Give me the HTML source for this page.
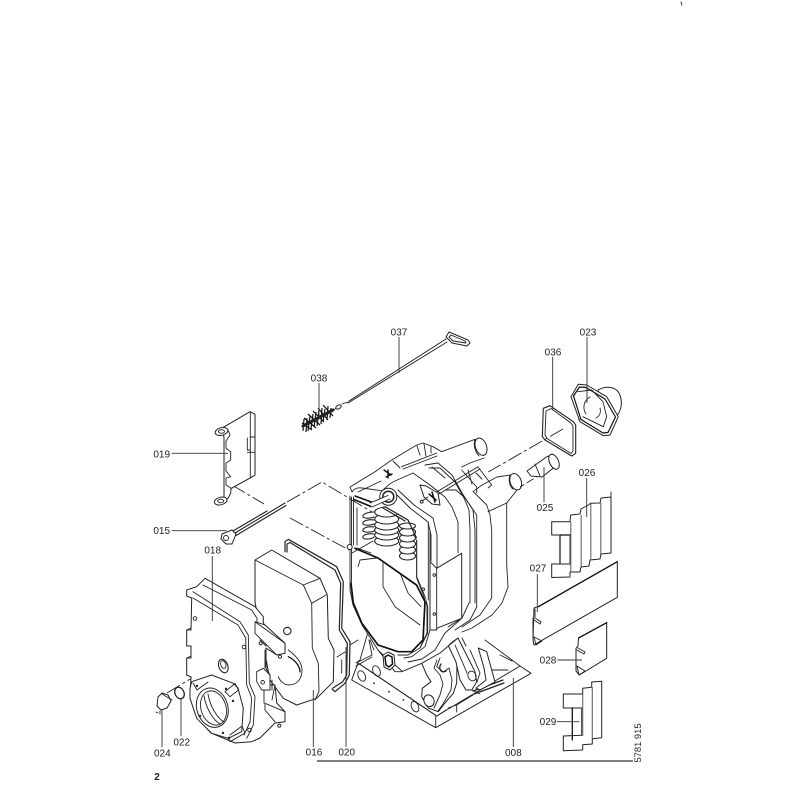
<!DOCTYPE html>
<html><head><meta charset="utf-8"><style>
html,body{margin:0;padding:0;background:#fff}
svg{display:block}
text{font-family:"Liberation Sans",sans-serif;font-size:10px;fill:#222;text-anchor:middle}
.p{fill:none;stroke:#222;stroke-width:.9;stroke-linejoin:round;stroke-linecap:round}
.g{fill:none;stroke:#666;stroke-width:1.1}
.w{fill:#fff;stroke:#222;stroke-width:1;stroke-linejoin:round}
.f{fill:#fff;stroke:none}
.t{fill:none;stroke:#111;stroke-width:1.7;stroke-linejoin:round;stroke-linecap:round}
.l{fill:none;stroke:#333;stroke-width:.9}
.d{fill:none;stroke:#222;stroke-width:.9;stroke-dasharray:15 3 3 3}
</style></head><body>
<svg width="800" height="800" viewBox="0 0 800 800" xmlns="http://www.w3.org/2000/svg">
<rect width="800" height="800" fill="#fff"/>
<path class="p" d="M681 2l1 3"/>

<!-- base 008 -->
<path class="w" d="M358 663L351.7 680 435.7 727.7 531 673.3 520 666 436.7 716Z"/>
<path class="p" d="M358 663L436.7 716M435.7 716V727.5M485 640L520 666M491.7 670L508 670M500 655L512 661M448 708L456.7 705V712M437 716L446 710"/>
<path class="p" d="M473 691L503 680M474 694L504 683" style="stroke-width:1.3"/>
<path class="p" d="M456.7 705L473 695M472 690L480 694"/>
<ellipse class="p" cx="361.7" cy="676" rx="3.5" ry="5.5" transform="rotate(-25 361.7 676)"/>
<ellipse class="p" cx="376.5" cy="671" rx="3.5" ry="5.5" transform="rotate(-25 376.5 671)"/>
<ellipse class="p" cx="415" cy="706.7" rx="3.5" ry="5.5" transform="rotate(-25 415 706.7)"/>
<circle cx="374" cy="683.3" r=".9" fill="#222"/><circle cx="389" cy="691.7" r=".9" fill="#222"/><circle cx="403.3" cy="700" r=".9" fill="#222"/>
<path class="p" d="M368 632L360 660 356 663 372 655 369 640M356 666L372 657M374 650L370 640M337 657L345 652M341.7 660V673M350 645L358 640"/>
<!-- feet -->
<path class="w" d="M421.7 663.3L426.7 675 431 681.7 422.3 688.3 421.7 696.7 428.3 708 438.3 711.7 445 703 453.3 693.3 456.7 683 457 660 448 640 430 650Z"/>
<path class="p" d="M440 658L436.7 666.7 443.3 672 449 668 452 680 451 690 443 704 438 711M437 660L434 668 440 675 443 684 440 695 434 708"/>
<path class="p" d="M441 664C438 668 441 674 446 671" style="stroke-width:1.4"/>
<ellipse class="w" cx="429" cy="700.7" rx="5" ry="6" transform="rotate(-25 429 700.7)"/>
<path class="w" d="M448 645L458 638 475 671.7 476.7 681.7 471.7 690 466 690 460 680 456 662Z"/>
<path class="p" d="M455 645L467 673M470 650L480 673 477 682M462 638L466 646"/>
<ellipse class="p" cx="472" cy="676" rx="4" ry="5" transform="rotate(-25 472 676)"/>
<path class="w" d="M478.3 648L486.7 651.7 491.7 670 495 682 480 690 476 688 486 680 484 668Z"/>

<!-- body silhouette -->
<path class="f" d="M350 487L375 472 392 460 417 445 423 443 433 447 442 452 475 439 481 438 487 455 462 467 480 478 497 477 510 475 520 486 507 503 508 587 502 603 492 615 472 628 462 632 440 653 422 663 402 672 395 672 378 650 362 625 353 605 350 590Z"/>
<path class="p" d="M350 487L375 471.7 391.7 460 416.7 445 423 443 433 446.7 441.7 451.7 475 439.3"/>
<ellipse class="w" cx="481" cy="446.7" rx="5.5" ry="9" transform="rotate(-20 481 446.7)"/>
<path class="p" d="M484 458L470 463 461.7 467M475 439.3C473 444 475 452 479 456"/>
<path class="p" d="M473 491.7L482 485 497 477 510 475"/>
<ellipse class="w" cx="515.7" cy="481.7" rx="5.5" ry="8.5" transform="rotate(-20 515.7 481.7)"/>
<path class="p" d="M517 490L506.7 503 488 511.7M510 475C508 480 510 487 513 489"/>
<path class="p" d="M506.7 503V565L508 587 502 603 492 615 472 628 462 632"/>
<path class="p" d="M461.7 470L476.7 487V493M468 470L472 484M478 467L491.7 485 488 488M476 473L482 479"/>
<!-- fins -->
<path class="p" d="M383 490Q390 483 395 481L413 473 430 485 445 497 452 507 458 522V553"/>
<path class="p" d="M396 494L410 508 428 522 431 535V561M398 490L414 505 433 518 437 535V568"/>
<path class="p" d="M425 465L438 463 452 475 462 493 473 510 475 530V603M429 468L440 468 455 482 464 498 469 510 470 530V603"/>
<path class="p" d="M445 490L456 490 465 498 476.7 515V607"/>
<path class="p" d="M473.3 491.7L486.7 505 490 515 491.7 530V598L480 615 462 627M469 603L462 618 448 627M476.7 607L470 620 455 630"/>
<path class="p" d="M432 467L445 478"/>
<!-- side plate -->
<path class="w" d="M430 561.7L436.7 568.3 461.7 553.3V618.3L436.7 628.3V630L430 630Z"/>
<path class="p" d="M436.7 568V628M430 530V562"/>
<circle class="p" cx="434.3" cy="575" r="1.3"/><circle class="p" cx="423.3" cy="589.3" r="1.3"/><circle class="p" cx="434.3" cy="614" r="1.3"/>
<path class="p" d="M461 619L445 633 435 650 422 659 408 662M430 630L425 646.7 411.7 656.7 404 658"/>
<!-- lower plate contour -->
<path class="p" d="M350 590L353 605 362 625 378 650 395 671.7 401.7 671.7 421.7 663.3 440 653 458 638"/>
<path class="p" d="M428.3 522V600M416.7 540V576.7L425 596.7 427.7 606.7V633L420 648 408 655 398 655"/>
<!-- window/opening -->
<path class="f" d="M353 497L375 490 392 505 416 530V577L426 600V634L420 646 410 651 398 652 378 645 362 623 353 603Z"/>
<path class="t" d="M351 583.3L353.3 603 361.7 623 378 645 398 651.7 411.7 651.7 423 640 425 601.7 416.5 585 378 558 355 548.3"/>
<path class="p" d="M353.5 497V545M351.5 497V583M357 508V545M416.7 540V578L424 597 427 606V633L420 648"/>
<path class="p" d="M358 566.7L360 560 376.7 558M383 563V586.7L395 606.7 420 625M400 573L408 593 421 606.7"/>
<path class="p" d="M350 496V590"/>
<path class="p" d="M385 506.7L408 520 416.7 538"/>
<!-- coils -->
<g fill="#fff" stroke="#222" stroke-width="1.1">
<ellipse cx="386.7" cy="541" rx="12" ry="5"/><ellipse cx="386.7" cy="535" rx="12" ry="5"/><ellipse cx="386.7" cy="530" rx="12" ry="5"/><ellipse cx="386.7" cy="525" rx="12" ry="5"/><ellipse cx="386.7" cy="519" rx="12" ry="5"/><ellipse cx="386.7" cy="512" rx="12" ry="5"/>
<ellipse cx="407.5" cy="556" rx="8" ry="4"/><ellipse cx="407.5" cy="550" rx="8" ry="4"/><ellipse cx="407.5" cy="544" rx="8" ry="4"/><ellipse cx="407.5" cy="538" rx="8" ry="4"/><ellipse cx="407.5" cy="532" rx="8" ry="4"/><ellipse cx="407.5" cy="526" rx="8" ry="3"/>
</g>
<path class="p" d="M374 512C368 512 362 514 363 517 365 519 372 518 374 517M374 520C368 519 362 521 363 524 365 526 372 525 374 524M374 527C368 526 362 528 363 531 365 533 372 532 374 531M374 534C368 533 362 535 363 538 365 540 372 539 374 537" style="stroke-width:1.1"/>
<path class="f" d="M368 502L388 496 400 500 416 515 416 523 408 520 385 506 372 510Z"/>
<path class="p" d="M385 506.7L408 520 415 535M383 508L405 521" style="stroke-width:1.2"/>
<path class="t" d="M355 496L374 503M354 499.5L371 506.5" style="stroke-width:1.5"/>
<path class="p" d="M352 492Q355 487 362 488L383 491M358 492L381 481M350 487L352 492"/>
<path class="p" d="M352 553L373 541M357 548L371 553"/>
<!-- boss -->
<circle class="w" cx="388.3" cy="496.7" r="8.5"/><circle class="p" cx="388.3" cy="496.7" r="5.5" style="stroke-width:1.5"/>
<path class="f" d="M370 503L388 495 390 499 372 507Z"/><path class="p" d="M370 503L388 495.5M372 507L390 499"/>
<circle class="w" cx="349.7" cy="547" r="2.5"/>
<!-- rear rod & clamps -->
<path class="p" d="M401.7 466.7L436.7 453M403 469L437 456M417 446L420 455M424 444L426 456M431 447V453M393 461L400 468"/>
<path class="t" d="M384 470L391 475M386 477L392 474M388 470V478" style="stroke-width:1.4"/>
<!-- front rod & clamp -->
<path class="p" d="M437 491.7L478 466.7M439 494L480 469"/>
<path class="w" d="M420 485L426 486 438 493 440 505 432 504 424 497Z"/>
<path class="t" d="M429 494L436 500M432 492L435 502" style="stroke-width:1.5"/>
<path class="p" d="M422 501L428 497"/><circle class="w" cx="421.7" cy="501.7" r="1.4"/>
<!-- hub -->
<path class="w" d="M383 655L388 652 394 655 395 665 390 670 384 667Z"/>
<path class="t" d="M385 657L388 655 392 657 392.5 664 389 667 386 665Z" style="stroke-width:1.5"/>
<path class="p" d="M378 650L383 655M395 665L402 671"/>

<!-- dash lines -->
<path class="d" d="M232 485L264 504"/>
<path class="d" d="M287 502L322 482 372 512"/>
<path class="d" d="M290 518L349 550"/>
<path class="d" d="M597 410L576 421"/>
<path class="d" d="M563 429L488.3 472"/>
<path class="d" d="M543 473L520 487" style="stroke-dasharray:8 3"/>
<path class="d" d="M167 693L205 670"/>
<path class="p" d="M205 670L218 660"/>

<!-- 019 -->
<path class="w" d="M222.7 427.7L250 411.7 255 414.3V475L250.7 477.7 231 488.5 230.7 493.3 228 498.3 224 500V438Z"/>
<path class="p" d="M250.3 412V477.7M224 438.3V490M230 435L226 441V448.3L230.7 451.7V460L226 463V471L230.7 476.7 226 478V485L230.7 488M222.7 427.7L228 430 230 435M247.3 438V450H250M255 437H250M247.3 452.3H255"/>
<ellipse class="w" cx="221.5" cy="431.5" rx="6.5" ry="3.8" transform="rotate(-15 221.5 431.5)"/><ellipse class="p" cx="221.5" cy="431.5" rx="3" ry="1.8"/>
<ellipse class="w" cx="220.7" cy="501" rx="6.5" ry="3.8" transform="rotate(-15 220.7 501)"/><ellipse class="p" cx="220.7" cy="501" rx="3" ry="1.8"/>
<path class="l" d="M171.7 453.3H228"/>

<!-- 015 -->
<path class="p" d="M235 533L285 503M236 535.5L286 505.5M233 531L267 511" style="stroke-width:1.1"/>
<path class="w" d="M222 534L232 530 236 534 232 544 226 544 221 539Z"/><circle class="p" cx="226" cy="538" r="2.5"/>
<path class="l" d="M171.7 530.7H226.7"/>

<!-- 038 -->
<g stroke="#111" stroke-width="1.2" fill="none">
<path d="M304 419L303 431M307 418L306 432M310 416L308 431M313 414L311 429M316 412L314 427M319 410L317 426M322 408L321 424M325 409L323 422M328 406L327 420M331 408L330 418M302 423L312 430M304 418L316 428M308 414L320 425M313 411L324 422M318 408L328 420M323 405L333 416"/>
</g>
<path class="p" d="M303 426L333 410" style="stroke-width:3"/>
<path class="p" d="M333 410L337 408"/>
<ellipse class="w" cx="338.5" cy="407" rx="3" ry="1.8" transform="rotate(-30 338.5 407)"/>
<!-- 037 rod -->
<path class="p" d="M342 404L348 402"/>
<path class="p" d="M348 403L447 342M349 401L446 339" style="stroke-width:1"/>
<path class="w" d="M449 332L468 340 470 343 467 346 452 343 446 337Z"/><path class="p" d="M451 335L465 341 466 343 453 341 449 337Z"/>

<!-- 036 gasket -->
<path class="p" d="M543.3 408.3L550 405.7 573.3 421.7 575.7 425V453.3L571.7 456 545 440 542.3 436.7Z" style="stroke-width:1.1"/>
<path class="p" d="M546 411L551 408.5 571 423 573 426V451L571 453.5 547 438.5 545 435Z"/>
<!-- 023 flange -->
<path class="w" d="M598 390C605 386 615 386 619 393 623 401 622 410 616 417L605 410Z"/>
<path class="w" d="M571 396.7L578.3 384.3 586.7 385 606.7 396.7 618.3 416.7 610 435 603.3 435.7 580 421.7Z"/>
<path class="t" d="M573.5 396L579.5 387 586 387.5 605 399 615.5 417 608 432.5 603 433 581 419.5Z" style="stroke-width:1.2"/>
<path class="p" d="M578 391.7L591.7 390 603 401.7 606.7 416.7 603.3 426.7 583 416.7M590 397C584 400 582 408 586 414M600 408C601 412 600 416 596 418"/>

<!-- 025 -->
<path class="w" d="M527 471L538 463 548 456 556 466 542 477 531 476Z"/>
<ellipse class="w" cx="554" cy="461.7" rx="4.5" ry="8" transform="rotate(-25 554 461.7)"/>
<path class="p" d="M535 464L540 476"/>

<!-- 026 -->
<path class="w" d="M551.7 521.7H570L570.7 515 580 514 581 509 590 504 590 503.3 600 503 601 498 611 497 611 553 601 554 600 559 590 560 589 566 581 567 580 572 570 572V577L551.7 577.5V564H570V535H551.7Z"/>
<path class="g" d="M570.8 522V572M581.2 515V567M590.8 504V560M600.8 503V554"/>
<path class="p" d="M611 497V492"/>
<path class="t" d="M560 535V563M560 535H570" style="stroke-width:1.2"/>

<!-- 027 -->
<path class="w" d="M534 608L538 606.7 617.3 561.7V597.3L536.7 643.3 534 645 533 640Z"/>
<path class="t" d="M538.5 606.7L617.3 561.7" style="stroke-width:1.3"/>
<path class="p" d="M535 609V617M533 618V640M535 618L541 622 540 624 534 620M534 637L542 641 536 645Z"/>

<!-- 028 -->
<path class="w" d="M578.5 638L606.7 622.7V658.3L579.3 675 576 671V648.3L578 646Z"/>
<path class="t" d="M578.5 638L606.7 622.7" style="stroke-width:1.3"/>
<path class="p" d="M578 648L585 652 584 654 577 650M577 666L585 671 579 675Z"/>

<!-- 029 -->
<path class="w" d="M563.3 694L582.7 694V688.3L591.7 687.3V682L601.7 681.3V737.7L592.3 738.7V744L582.7 744.7V750L563.3 750.7V736L581.7 735.3V708H563.3Z"/>
<path class="g" d="M582.7 694V736M592.3 687V739"/>
<path class="t" d="M572.3 708V740" style="stroke-width:1.3"/>

<!-- 020 -->
<path class="p" d="M285 551.7V541.7L288.3 539.3 336.7 566.7 343.3 581.7 341.7 628.3 350 641.7 349.3 675 345 683.3 335 691.7 332 689M287 552V544L290 542.5 335 570 340.7 583.3 339.3 630 347.3 643.3 346.7 675 342.7 681.7 333 688" style="stroke-width:1.2"/>

<!-- 016 -->
<path class="w" d="M255 560L271.7 550 320 578.3 327.3 595 328.3 638.3 334 650 333.3 681.7 316.7 698.3 296.7 705 283.3 698.3 270 680 255 602Z"/>
<path class="p" d="M255 560L303.3 585 320 578.3M303.3 585L311.7 603.3 326 595M311.7 603.3L312.3 648.3 318.3 663.3 319 691.7 315 700"/>
<circle class="p" cx="287.3" cy="631" r="3.7" style="stroke-width:1.1"/>
<path class="p" d="M288.3 650C295 655 302 662 302 670 302 680 296 685 289 685 284 685 280 681 278.3 676.7"/>
<path class="t" d="M288.3 656.7C295 660 300 666 300 672" style="stroke-width:1.3"/>

<!-- 018 -->
<path class="w" d="M186.7 590L196.7 586.7 201.7 581.7 205 578.3 255 606.7 263.3 616.7 263.3 623.3 265 625 285 643.3V653.3L276.7 655 266 648V668.5L270 675 270 685 275 685 276.7 703 285 711.7V721.7L275 723 260 738 251.7 741.7 235 743 211 733 197 718 190 698 191 677 186.7 675V658H191V646H186.7V630H191L191.7 598 186.7 596Z"/>
<path class="p" d="M203 585L251.7 610 257 618.3V622M193 591.7L240 621.7 248.3 635 249.3 683.3 255 696.7 253.3 725 246.7 738.3M193 598L238 625 245.7 638 246.7 685 251.7 698 250 722 244 735M255 621.7L265 625M255 621.7V633.3L276.7 655M255 621.7L285 643.3M265 650V668M260 640L266 646M256.7 671.7L263.3 668.3 270 675V690H261.7L256.7 681.7ZM272 680V690M275 685L272 700M265 703.3L285 711.7M265 703.3V710L275 721.7M264 690V703M186.7 630L191 628M186.7 658L191 656"/>
<circle class="p" cx="262.7" cy="682.3" r="1.8"/><circle class="w" cx="260.7" cy="643.3" r="1.6"/><circle class="w" cx="280" cy="656.7" r="1.6"/><circle class="w" cx="279.3" cy="725.7" r="1.6"/>
<circle class="p" cx="195" cy="618.5" r="1.8"/><circle class="p" cx="244" cy="647" r="1.8"/><circle class="p" cx="249.5" cy="730" r="1.8"/>
<!-- ring -->
<path class="w" d="M190 688.3L191.7 681.7 211.7 675 233.3 683.3 238 688 243.3 708.3 241.7 731.7 228.3 738.3 211.7 733.3 196.7 718.3 190 698.3Z"/>
<path class="p" d="M225 691.7L235 683.5 238.5 690 230 696.7ZM230 735L242 726 245 733 230 741.7 228.5 738.5M193 683L197 690 208 682"/>
<ellipse class="w" cx="212.3" cy="707.7" rx="15.5" ry="20" transform="rotate(-18 212.3 707.7)"/>
<ellipse class="p" cx="213.5" cy="708" rx="12.5" ry="17.5" transform="rotate(-18 213.5 708)"/>
<path class="p" d="M204 696C206 708 213 720 220 724M208 694C210 706 217 718 224 722"/>
<circle cx="197" cy="686" r="1.2" fill="#222"/><circle cx="226" cy="689" r="1.2" fill="#222"/><circle cx="233" cy="701" r="1.2" fill="#222"/><circle cx="223" cy="733" r="1.2" fill="#222"/><circle cx="200" cy="716" r="1.2" fill="#222"/><circle cx="229" cy="738" r="1.4" fill="#222"/>
<ellipse class="p" cx="223.3" cy="666" rx="4.5" ry="7" transform="rotate(-20 223.3 666)" style="stroke-width:1.1"/>
<ellipse class="p" cx="223.3" cy="664.5" rx="2.5" ry="4" transform="rotate(-20 223.3 664.5)"/>

<!-- 022 / 024 -->
<ellipse class="p" cx="179.5" cy="693" rx="4.5" ry="6" transform="rotate(-25 179.5 693)" style="stroke-width:1.3"/>
<path class="w" d="M158 697L162 693 168 695 171 701 167 708 161 710 157 706Z"/>
<path class="p" d="M156 712L158 713M160 711V714M162 694L172 700"/>

<!-- leaders -->
<path class="l" d="M399 337V373M319 383V418M552.7 357V410M587 337V403M544 467V502M586.7 478V517M537.3 574V612M557.3 660H582M557 721.7H579.3M513.3 678V747M346 647V747M313.3 690V747M212.3 556V621M181 699V736M162 710V747"/>
<path d="M317 761H633" stroke="#333" stroke-width="1.2" fill="none"/>

<!-- labels -->
<text x="399" y="335.5">037</text>
<text x="319" y="381.5">038</text>
<text x="553" y="355.5">036</text>
<text x="588" y="335.5">023</text>
<text x="161.7" y="457.5">019</text>
<text x="161.7" y="534">015</text>
<text x="212.7" y="553.5">018</text>
<text x="545" y="511">025</text>
<text x="587" y="476">026</text>
<text x="538" y="571.5">027</text>
<text x="548" y="663.5">028</text>
<text x="548" y="725">029</text>
<text x="513.3" y="756">008</text>
<text x="346.7" y="755.5">020</text>
<text x="314" y="755.5">016</text>
<text x="181.7" y="745.5">022</text>
<text x="162.3" y="756.5">024</text>
<text x="157" y="780" style="font-weight:bold">2</text>
<text transform="translate(641 743) rotate(-90)" style="font-size:9.4px">5781 915</text>
</svg>
</body></html>
